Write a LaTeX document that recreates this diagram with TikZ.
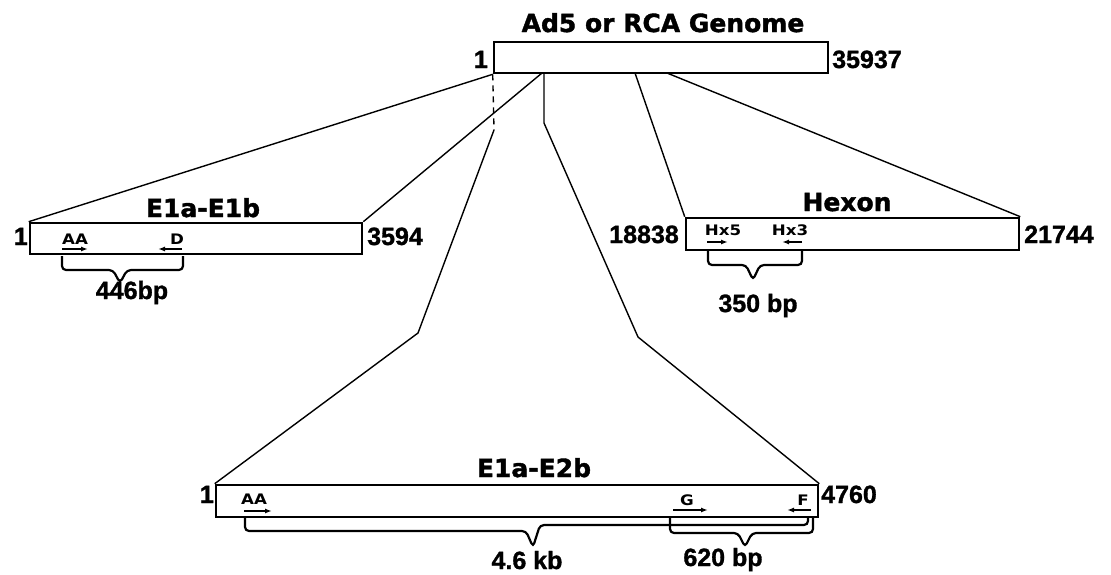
\documentclass[tikz,border=0pt]{standalone}
\usepackage{fontspec}
\setmainfont{Liberation Sans}[BoldFeatures={FakeBold=1.2}]
\newfontfamily\titlefont{DejaVu Sans}[BoldFeatures={FakeBold=1.5}]
\newfontfamily\primerfont[FakeStretch=1.15]{DejaVu Sans}
\usetikzlibrary{arrows.meta,positioning}

\begin{document}
\begin{tikzpicture}[x=1pt, y=-1pt,
  genebox/.style={draw, line width=2.6pt, inner sep=0pt, minimum height=31pt},
  genetitle/.style={inner sep=0pt, anchor=base, font=\titlefont\bfseries\fontsize{25}{30}\selectfont},
  posn/.style={inner sep=0pt, font=\bfseries\fontsize{25}{30}\selectfont},
  primer/.style={inner sep=0pt, anchor=base, font=\primerfont\bfseries\fontsize{14.5}{17}\selectfont},
  fwd/.style={line width=1.4pt, -{Latex[length=7pt,width=5pt]}},
  zoomline/.style={line width=1.4pt},
  brace/.style={line width=2.2pt, rounded corners=4pt},
  sizelabel/.style={inner sep=0pt, anchor=base, font=\bfseries\fontsize{25}{30}\selectfont}]
\useasboundingbox (0,0) rectangle (1111,574);

% full genome
\node[genebox, minimum width=334pt] (genome) at (661,57.5) {};
\node[genetitle] (genomet) at (663,32) {Ad5 or RCA Genome};
\node[posn, anchor=base east] (genome1) at (488,68) {1};
\node[posn, anchor=base west] (genomeend) at (832,68) {35937};

% E1a-E1b
\node[genebox, minimum width=332pt] (e1b) at (196,238.5) {};
\node[genetitle] (e1bt) at (203,217) {E1a-E1b};
\node[posn, anchor=base east] (e1b1) at (28,245) {1};
\node[posn, anchor=base west] (e1bend) at (367,245) {3594};
\node[primer] (e1baa) at (75,244) {AA};
\node[primer] (e1bd) at (177,244) {D};
\draw[fwd] (62,249) -- (88,249);
\draw[fwd] (182,249) -- (158,249);
\draw[brace] (62,256) -- (62,270) -- (113,270) -- (120,283) -- (127,270) -- (183,270) -- (183,256);
\node[sizelabel] (e1bsize) at (132,299) {446bp};

% Hexon
\node[genebox, minimum width=333pt, minimum height=32pt] (hexon) at (852.5,234) {};
\node[genetitle] (hexont) at (847,211) {Hexon};
\node[posn, anchor=base east] (hexon1) at (679,243) {18838};
\node[posn, anchor=base west] (hexonend) at (1024,243) {21744};
\node[primer] (hx5) at (723,235) {Hx5};
\node[primer] (hx3) at (790,235) {Hx3};
\draw[fwd] (707,242) -- (728,242);
\draw[fwd] (802,242) -- (782,242);
\draw[brace] (708,251) -- (708,265) -- (746,265) -- (753,280) -- (760,265) -- (802,265) -- (802,251);
\node[sizelabel] (hexonsize) at (758,312) {350 bp};

% E1a-E2b
\node[genebox, minimum width=602pt, minimum height=32pt] (e2b) at (517,501) {};
\node[genetitle] (e2bt) at (534,477) {E1a-E2b};
\node[posn, anchor=base east] (e2b1) at (214,503) {1};
\node[posn, anchor=base west] (e2bend) at (821,503) {4760};
\node[primer] (e2baa) at (254,504) {AA};
\node[primer] (e2bg) at (687,505) {G};
\node[primer] (e2bf) at (803,505) {F};
\draw[fwd] (244,511) -- (272,511);
\draw[fwd] (673,510) -- (708,510);
\draw[fwd] (811,510) -- (787,510);
\draw[brace] (245,518) -- (245,531) -- (526,531) -- (533,547) -- (540,525) -- (808,525) -- (808,518);
\draw[brace] (670,518) -- (670,533) -- (738,533) -- (745,547) -- (752,533) -- (813,533) -- (813,518);
\node[sizelabel] (e2bsize) at (527,569) {4.6 kb};
\node[sizelabel] (e2bgf) at (723,566) {620 bp};

% zoom lines
\coordinate (gE1bR) at (542,73);
\coordinate (gE2bL) at (494,130);
\coordinate (gE2bR) at (544,73);
\coordinate (kinkR) at (544,123);
\coordinate (bendL) at (418,333);
\coordinate (bendR) at (638,337);
\coordinate (gHexL) at (635,73);
\coordinate (gHexR) at (667,73);
\draw[zoomline] (genome.south west) -- (e1b.north west);
\draw[zoomline] (gE1bR) -- (e1b.north east);
\draw[zoomline, dash pattern=on 6pt off 5pt] (genome.south west) -- (gE2bL);
\draw[zoomline] (gE2bL) -- (bendL) -- (e2b.north west);
\draw[zoomline] (gE2bR) -- (kinkR) -- (bendR) -- (e2b.north east);
\draw[zoomline] (gHexL) -- (hexon.north west);
\draw[zoomline] (gHexR) -- (hexon.north east);
\end{tikzpicture}
\end{document}
